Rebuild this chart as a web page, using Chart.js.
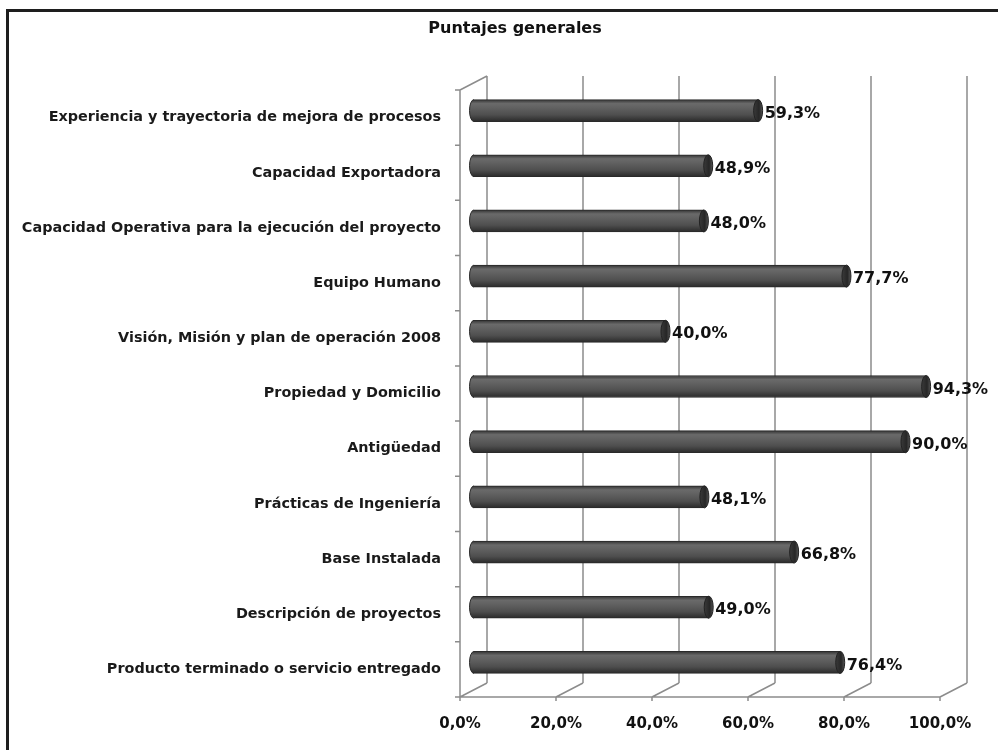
<!DOCTYPE html>
<html>
<head>
<meta charset="utf-8">
<script src="https://cdn.jsdelivr.net/npm/chart.js@4"></script>
<style>
  html, body { margin: 0; padding: 0; background: #fff; }
  #wrap { position: relative; width: 998px; height: 750px; }
</style>
</head>
<body>
<div id="wrap"><canvas id="c" width="998" height="750"></canvas></div>
<script>
const titleText = 'Puntajes generales';
const categories = [
  'Experiencia y trayectoria de mejora de procesos',
  'Capacidad Exportadora',
  'Capacidad Operativa para la ejecución del proyecto',
  'Equipo Humano',
  'Visión, Misión y plan de operación 2008',
  'Propiedad y Domicilio',
  'Antigüedad',
  'Prácticas de Ingeniería',
  'Base Instalada',
  'Descripción de proyectos',
  'Producto terminado o servicio entregado'
];
const scores = [59.3, 48.9, 48.0, 77.7, 40.0, 94.3, 90.0, 48.1, 66.8, 49.0, 76.4];
const xTicks = [0, 20, 40, 60, 80, 100];

const DEPTH_X = 27, DEPTH_Y = -14;     // perspective depth of the 3D box
const BAR_DX = 13.5, BAR_DY = -7;      // bars sit mid-depth
const GRID = '#8c8c8c';

function fmt(v) { return v.toFixed(1).replace('.', ',') + '%'; }

function barGradient(ctx) {
  const chart = ctx.chart;
  if (!chart.chartArea || !chart.scales.y) return '#555555';
  const yc = chart.scales.y.getPixelForValue(ctx.dataIndex);
  const h = 11;
  const g = chart.ctx.createLinearGradient(0, yc - h, 0, yc + h);
  g.addColorStop(0, '#333333');
  g.addColorStop(0.18, '#6a6a6a');
  g.addColorStop(0.35, '#626262');
  g.addColorStop(0.7, '#4e4e4e');
  g.addColorStop(1, '#2a2a2a');
  return g;
}

const box3d = {
  id: 'box3d',
  beforeDatasetsDraw(chart) {
    const { ctx, chartArea: a, scales: { x, y } } = chart;
    ctx.save();
    ctx.strokeStyle = GRID;
    ctx.lineWidth = 1.5;
    ctx.beginPath();
    xTicks.forEach(v => {
      const px = x.getPixelForValue(v) + DEPTH_X;
      ctx.moveTo(px, a.top + DEPTH_Y);
      ctx.lineTo(px, a.bottom + DEPTH_Y);
    });
    ctx.moveTo(a.left, a.bottom);
    ctx.lineTo(x.getPixelForValue(100), a.bottom);
    xTicks.forEach(v => {
      const px = x.getPixelForValue(v);
      ctx.moveTo(px, a.bottom);
      ctx.lineTo(px + DEPTH_X, a.bottom + DEPTH_Y);
      ctx.moveTo(px, a.bottom);
      ctx.lineTo(px, a.bottom + 4);
    });
    ctx.moveTo(a.left, a.top);
    ctx.lineTo(a.left, a.bottom);
    ctx.moveTo(a.left, a.top);
    ctx.lineTo(a.left + DEPTH_X, a.top + DEPTH_Y);
    const n = categories.length;
    const step = (a.bottom - a.top) / n;
    for (let k = 0; k <= n; k++) {
      const py = a.top + k * step;
      ctx.moveTo(a.left - 5, py);
      ctx.lineTo(a.left, py);
    }
    ctx.stroke();
    ctx.restore();
    ctx.save();
    ctx.translate(BAR_DX, BAR_DY);
  },
  afterDatasetsDraw(chart) {
    const { ctx } = chart;
    const meta = chart.getDatasetMeta(0);
    meta.data.forEach((bar, i) => {
      const h = bar.height / 2;
      const rx = 4.5;
      // rounded left end
      ctx.beginPath();
      ctx.ellipse(bar.base + 0.5, bar.y, rx, h, 0, Math.PI / 2, Math.PI * 1.5);
      ctx.fillStyle = bar.options.backgroundColor;
      ctx.fill();
      ctx.strokeStyle = '#2a2a2a';
      ctx.lineWidth = 1;
      ctx.stroke();
      // right end cap
      ctx.beginPath();
      ctx.ellipse(bar.x, bar.y, rx, h, 0, 0, Math.PI * 2);
      const cg = ctx.createLinearGradient(bar.x - rx, 0, bar.x + rx, 0);
      cg.addColorStop(0, '#3a3a3a');
      cg.addColorStop(0.6, '#262626');
      cg.addColorStop(1, '#555555');
      ctx.fillStyle = cg;
      ctx.fill();
      ctx.strokeStyle = '#222';
      ctx.stroke();
      // value label
      ctx.fillStyle = '#111';
      ctx.font = 'bold 16px "DejaVu Sans"';
      ctx.textAlign = 'left';
      ctx.textBaseline = 'middle';
      ctx.fillText(fmt(scores[i]), bar.x + rx + 2, bar.y + 3);
    });
    ctx.restore();
  },
  afterDraw(chart) {
    const { ctx } = chart;
    ctx.save();
    ctx.fillStyle = '#111';
    ctx.font = 'bold 16px "DejaVu Sans"';
    ctx.textAlign = 'center';
    ctx.textBaseline = 'middle';
    ctx.fillText(titleText, 515, 29);
    ctx.strokeStyle = '#1e1e1e';
    ctx.lineWidth = 3;
    ctx.beginPath();
    ctx.moveTo(7.5, 760);
    ctx.lineTo(7.5, 10.5);
    ctx.lineTo(1010, 10.5);
    ctx.stroke();
    ctx.restore();
  }
};

new Chart(document.getElementById('c'), {
  type: 'bar',
  data: {
    labels: categories,
    datasets: [{
      data: scores,
      backgroundColor: barGradient,
      borderColor: '#2a2a2a',
      borderWidth: 1,
      borderSkipped: 'start',
      barThickness: 22
    }]
  },
  options: {
    indexAxis: 'y',
    responsive: false,
    animation: false,
    devicePixelRatio: 1,
    layout: { padding: { top: 90, right: 58, bottom: 0, left: 0 } },
    plugins: {
      legend: { display: false },
      tooltip: { enabled: false },
      title: { display: false }
    },
    scales: {
      x: {
        min: 0, max: 100,
        afterBuildTicks(s) { s.ticks = xTicks.map(v => ({ value: v })); },
        grid: { display: false, drawTicks: false },
        border: { display: false },
        ticks: {
          callback: v => fmt(v),
          color: '#111',
          font: { family: '"DejaVu Sans"', size: 15, weight: 'bold' },
          padding: 18,
          maxRotation: 0
        },
        afterFit(s) { s.height = 53; }
      },
      y: {
        grid: { display: false, drawTicks: false },
        border: { display: false },
        ticks: {
          color: '#1a1a1a',
          font: { family: '"DejaVu Sans"', size: 14.4, weight: 'bold' },
          padding: 19,
          autoSkip: false
        },
        afterFit(s) { s.width = 460; }
      }
    }
  },
  plugins: [box3d]
});
</script>
</body>
</html>
